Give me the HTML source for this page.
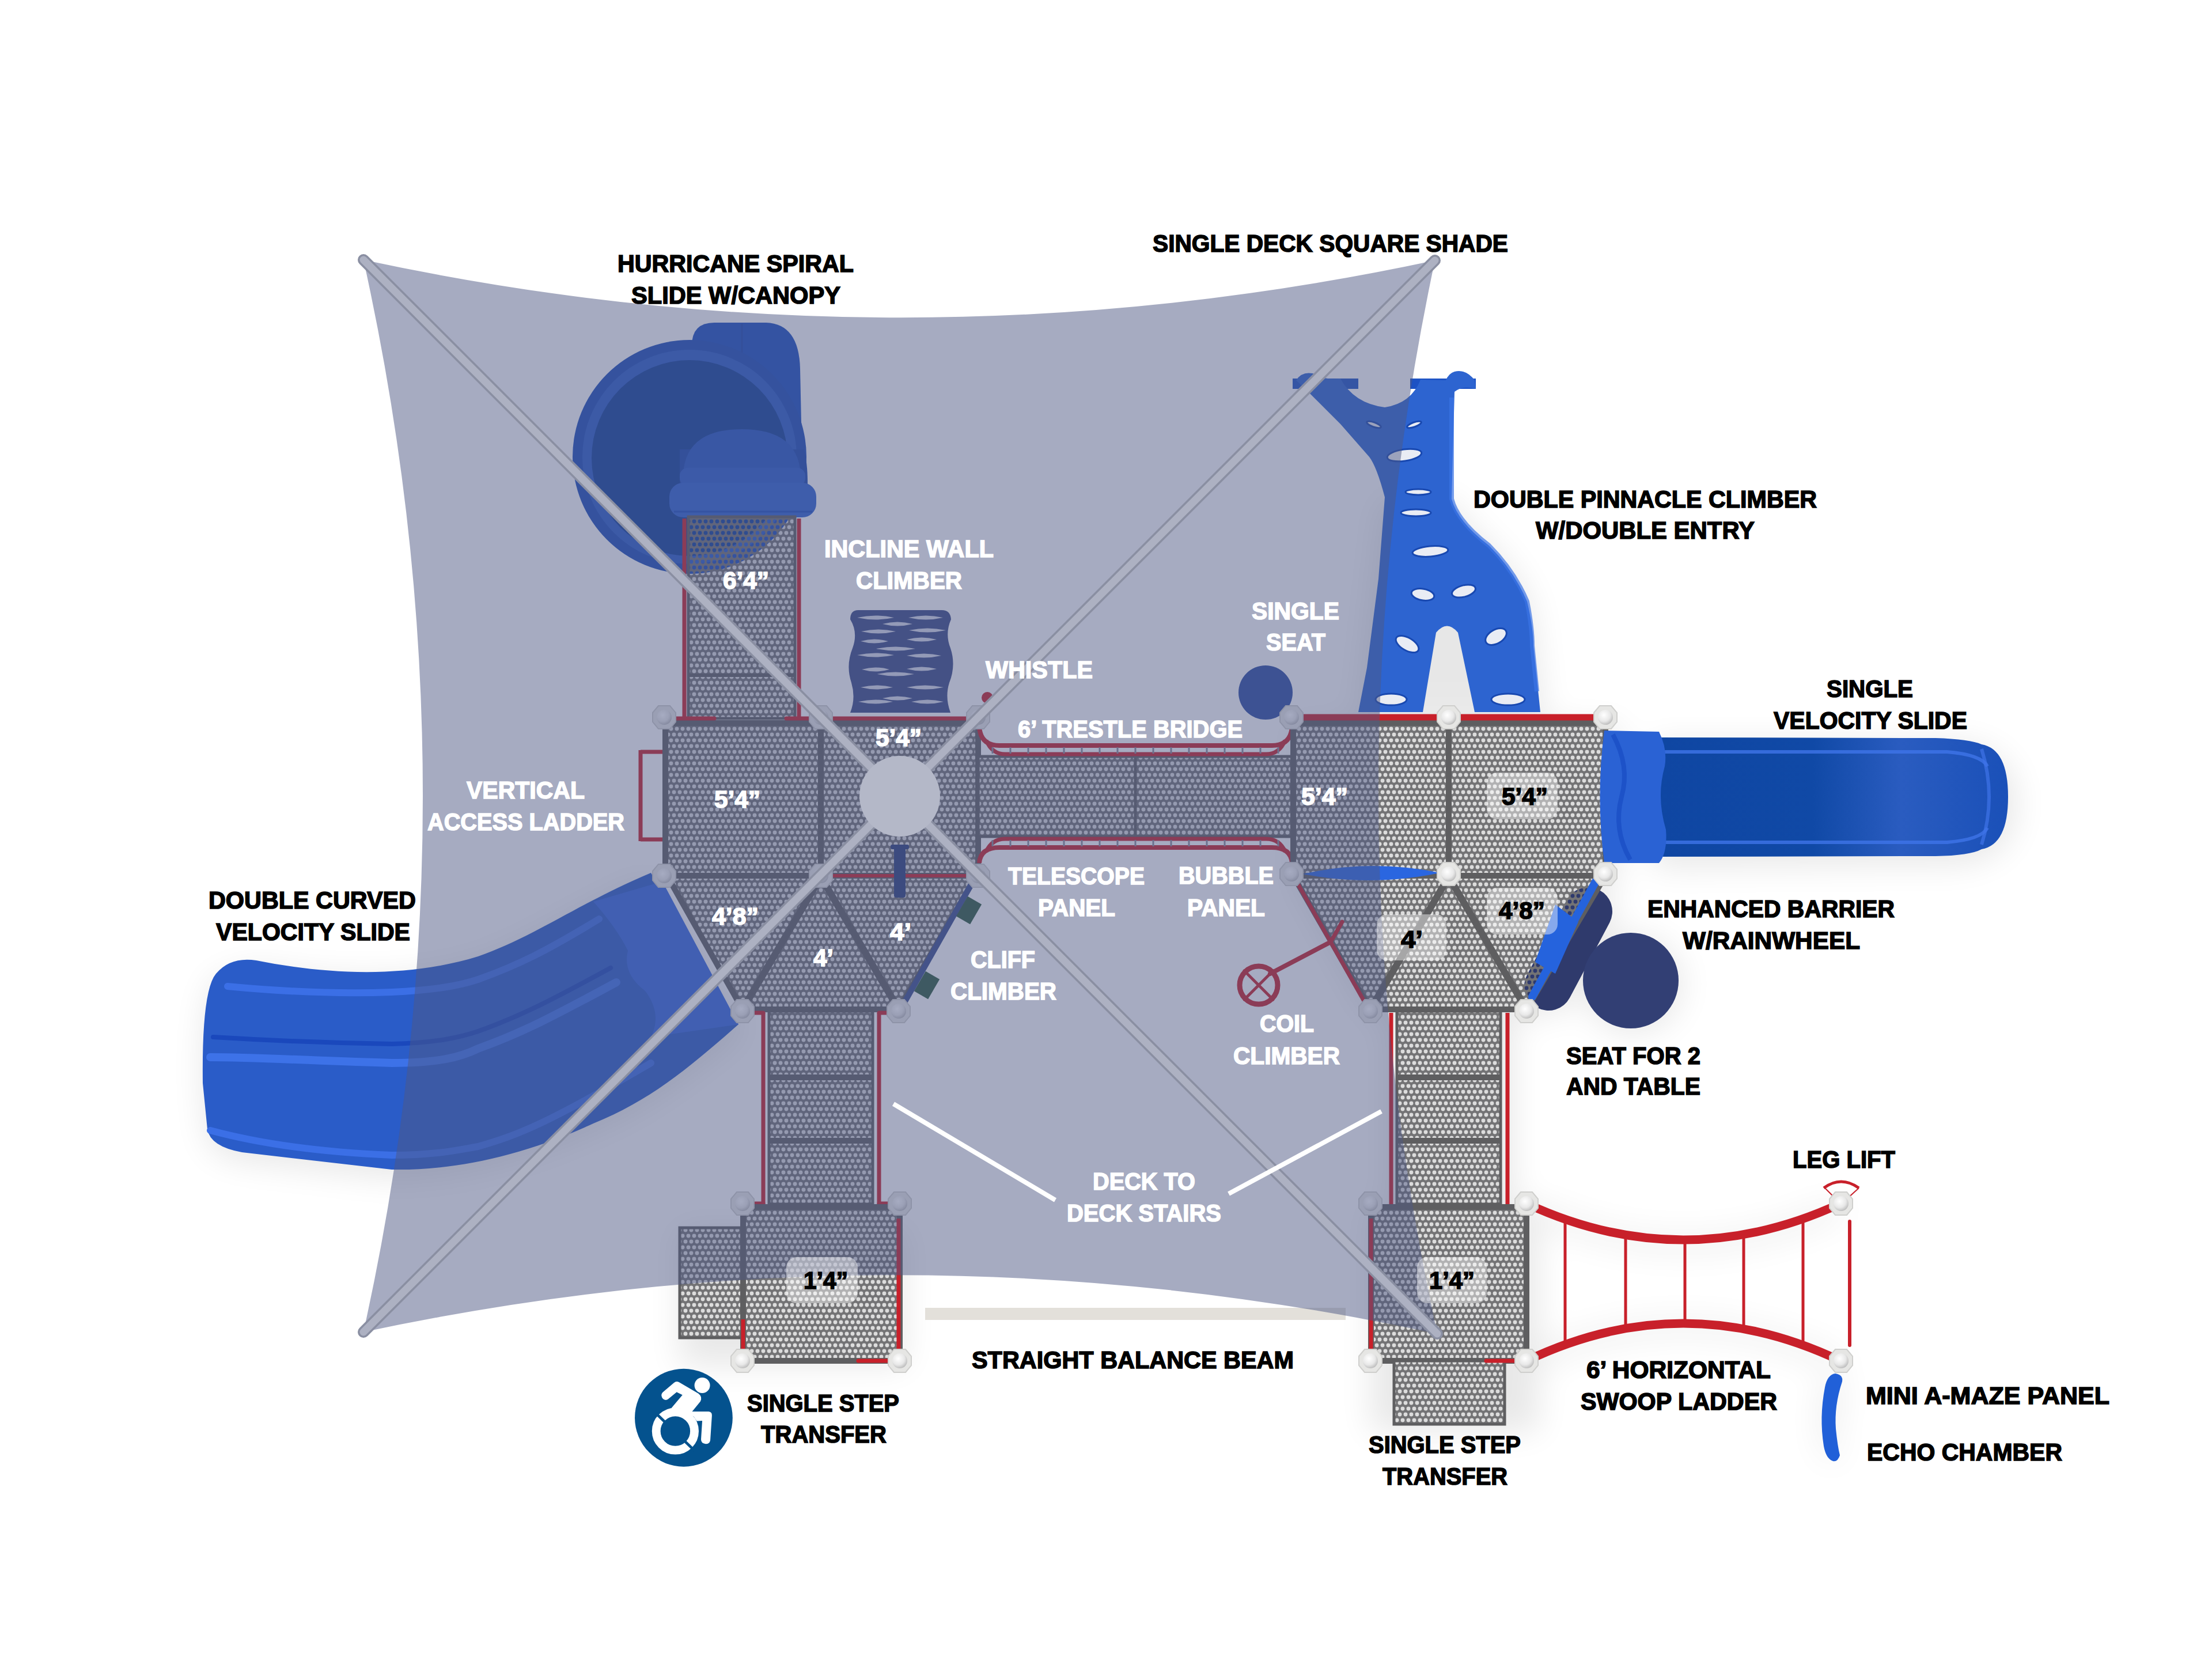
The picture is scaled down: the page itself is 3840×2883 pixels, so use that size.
<!DOCTYPE html>
<html><head><meta charset="utf-8"><title>Playground plan</title>
<style>html,body{margin:0;padding:0;background:#fff;} body{width:3840px;height:2883px;overflow:hidden;font-family:"Liberation Sans",sans-serif;} svg{display:block;}</style>
</head><body>
<svg width="3840" height="2883" viewBox="0 0 3840 2883">
<defs>
 <pattern id="dots" x="0" y="0" width="10" height="20" patternUnits="userSpaceOnUse">
  <rect width="10" height="20" fill="#737375"/>
  <circle cx="5" cy="5" r="3.45" fill="#dcdcdc"/>
  <circle cx="0" cy="15" r="3.45" fill="#dcdcdc"/>
  <circle cx="10" cy="15" r="3.45" fill="#dcdcdc"/>
 </pattern>
 <pattern id="dotsT" x="0" y="0" width="10" height="20" patternUnits="userSpaceOnUse">
  <path fill-rule="evenodd" fill="#737375" d="M0,0 H10 V20 H0 Z M1.55,5 a3.45,3.45 0 1,0 6.9,0 a3.45,3.45 0 1,0 -6.9,0 Z M-3.45,15 a3.45,3.45 0 1,0 6.9,0 a3.45,3.45 0 1,0 -6.9,0 Z M6.55,15 a3.45,3.45 0 1,0 6.9,0 a3.45,3.45 0 1,0 -6.9,0 Z"/>
 </pattern>
 <filter id="blur20" x="-30%" y="-30%" width="160%" height="160%"><feGaussianBlur stdDeviation="20"/></filter>
 <filter id="blur30" x="-50%" y="-50%" width="200%" height="200%"><feGaussianBlur stdDeviation="28"/></filter>
 <filter id="blur8" x="-30%" y="-30%" width="160%" height="160%"><feGaussianBlur stdDeviation="8"/></filter>
 <radialGradient id="vslideg" cx="0.5" cy="0.5" r="0.5"><stop offset="0" stop-color="#3b67cf"/><stop offset="1" stop-color="#1f52c8"/></radialGradient>
 <linearGradient id="vslide" x1="0" y1="0" x2="1" y2="0"><stop offset="0" stop-color="#0f46a2"/><stop offset="0.45" stop-color="#1049a6"/><stop offset="0.7" stop-color="#2a5cc0"/><stop offset="1" stop-color="#1a50b8"/></linearGradient>
 <radialGradient id="postg" cx="0.4" cy="0.35" r="0.7"><stop offset="0" stop-color="#ffffff"/><stop offset="0.6" stop-color="#e8e8e8"/><stop offset="1" stop-color="#b8b8b8"/></radialGradient>
 <linearGradient id="poleg" x1="0" y1="0" x2="1" y2="1">
  <stop offset="0" stop-color="#a9abb4"/><stop offset="1" stop-color="#9a9ca6"/>
 </linearGradient>
</defs>

<rect width="3840" height="2883" fill="#ffffff"/>
<g filter="url(#blur30)" fill="#000" opacity="0.09">
<path d="M2869,1290 L3400,1290 Q3500,1300 3500,1395 Q3500,1490 3400,1500 L2869,1505 Z"/>
<path d="M445,1680 C560,1700 700,1710 830,1670 C930,1635 1000,1580 1130,1525 L1290,1790 C1200,1860 1130,1920 1030,1960 C900,2020 780,2045 680,2045 L420,2015 Q365,2005 360,1975 L352,1890 Q350,1730 375,1700 Z"/>
<rect x="2380" y="2100" width="290" height="385"/>
<rect x="2250" y="1260" width="560" height="270"/>
<path d="M2250,1525 L2790,1525 L2660,1765 L2380,1765 Z"/>
<rect x="2412" y="1760" width="215" height="340"/>
<path d="M2520,870 Q2540,910 2590,950 Q2640,1000 2660,1060 L2680,1250 L2358,1250 L2400,870 Z"/>
<circle cx="2835" cy="1708" r="85"/>
<path d="M2762,1585 L2692,1718" stroke="#000" stroke-width="84" stroke-linecap="round"/>
<path d="M2650,2095 Q2922,2225 3195,2095" fill="none" stroke="#000" stroke-width="22"/>
<path d="M2650,2368 Q2922,2240 3195,2368" fill="none" stroke="#000" stroke-width="22"/>
<rect x="1180" y="2135" width="390" height="235"/>
<path d="M3190,2392 Q3205,2404 3192,2444 Q3178,2484 3190,2532 Q3185,2544 3172,2536 Q3152,2474 3168,2404 Z"/>
</g>
<g id="structure"><rect x="1195" y="897" width="185" height="350" fill="#dcdcdc"/>
<path d="M1201,600 Q1201,560 1240,560 L1330,560 Q1387,562 1389,640 L1392,780 L1240,780 Z" fill="#1b4fc0"/>
<line x1="1288" y1="562" x2="1288" y2="700" stroke="#1a47b0" stroke-width="3"/>
<circle cx="1197" cy="793" r="203" fill="#1c4db8"/>
<circle cx="1197" cy="793" r="186" fill="#2a5cc8"/>
<circle cx="1197" cy="795" r="170" fill="#11409a"/>
<path d="M1180,780 L1395,780 Q1402,800 1402,840 L1180,840 Z" fill="#1a48b0"/>
<path d="M1186,823 Q1190,745 1288,745 Q1385,745 1390,823 Z" fill="#2556c4"/>
<rect x="1180" y="812" width="218" height="32" rx="14" fill="#2a5ccc"/>
<rect x="1162" y="838" width="255" height="60" rx="24" fill="#2e62d2"/>
<line x1="1170" y1="888" x2="1410" y2="888" stroke="#1d4fc0" stroke-width="3"/>
<rect x="1195" y="897" width="185" height="350" fill="url(#dotsT)" stroke="#5e5e60" stroke-width="5"/>
<line x1="1195" y1="1172" x2="1380" y2="1172" stroke="#5e5e60" stroke-width="6" stroke-linecap="butt"/>
<line x1="1188" y1="900" x2="1188" y2="1250" stroke="#c8202a" stroke-width="7" stroke-linecap="butt"/>
<line x1="1387" y1="900" x2="1387" y2="1250" stroke="#c8202a" stroke-width="7" stroke-linecap="butt"/>
<path d="M1490,1059 L1635,1059 Q1650,1059 1651,1075 Q1640,1100 1650,1125 Q1660,1155 1648,1185 Q1640,1210 1650,1237 L1476,1237 Q1486,1212 1478,1185 Q1468,1155 1480,1125 Q1490,1098 1476,1075 Q1476,1059 1490,1059 Z" fill="#3b4a86"/>
<path d="M1488,1072 Q1520,1065 1552,1072 Q1520,1079 1488,1072 Z" fill="#d9dcea"/>
<path d="M1577,1072 Q1607,1065 1637,1072 Q1607,1079 1577,1072 Z" fill="#d9dcea"/>
<path d="M1532,1083 Q1558,1076 1584,1083 Q1558,1090 1532,1083 Z" fill="#d9dcea"/>
<path d="M1495,1096 Q1525,1089 1555,1096 Q1525,1103 1495,1096 Z" fill="#d9dcea"/>
<path d="M1578,1094 Q1610,1087 1642,1094 Q1610,1101 1578,1094 Z" fill="#d9dcea"/>
<path d="M1494,1113 Q1518,1106 1542,1113 Q1518,1120 1494,1113 Z" fill="#d9dcea"/>
<path d="M1574,1110 Q1600,1103 1626,1110 Q1600,1117 1574,1110 Z" fill="#d9dcea"/>
<path d="M1521,1126 Q1555,1119 1589,1126 Q1555,1133 1521,1126 Z" fill="#d9dcea"/>
<path d="M1488,1137 Q1520,1130 1552,1137 Q1520,1144 1488,1137 Z" fill="#d9dcea"/>
<path d="M1574,1138 Q1604,1131 1634,1138 Q1604,1145 1574,1138 Z" fill="#d9dcea"/>
<path d="M1496,1162 Q1520,1155 1544,1162 Q1520,1169 1496,1162 Z" fill="#d9dcea"/>
<path d="M1574,1161 Q1600,1154 1626,1161 Q1600,1168 1574,1161 Z" fill="#d9dcea"/>
<path d="M1523,1170 Q1555,1163 1587,1170 Q1555,1177 1523,1170 Z" fill="#d9dcea"/>
<path d="M1494,1193 Q1522,1186 1550,1193 Q1522,1200 1494,1193 Z" fill="#d9dcea"/>
<path d="M1574,1193 Q1606,1186 1638,1193 Q1606,1200 1574,1193 Z" fill="#d9dcea"/>
<path d="M1490,1218 Q1520,1211 1550,1218 Q1520,1225 1490,1218 Z" fill="#d9dcea"/>
<path d="M1582,1218 Q1610,1211 1638,1218 Q1610,1225 1582,1218 Z" fill="#d9dcea"/>
<path d="M1532,1212 Q1558,1205 1584,1212 Q1558,1219 1532,1212 Z" fill="#d9dcea"/>
<line x1="1112" y1="1302" x2="1112" y2="1460" stroke="#c8202a" stroke-width="7" stroke-linecap="butt"/>
<line x1="1112" y1="1305" x2="1150" y2="1305" stroke="#c8202a" stroke-width="7" stroke-linecap="butt"/>
<line x1="1112" y1="1457" x2="1150" y2="1457" stroke="#c8202a" stroke-width="7" stroke-linecap="butt"/>
<rect x="1155" y="1255" width="270" height="265" rx="8" fill="url(#dots)" stroke="#5e5e60" stroke-width="10"/>
<rect x="1425" y="1255" width="273" height="265" rx="8" fill="url(#dots)" stroke="#5e5e60" stroke-width="10"/>
<polygon points="1158,1520 1695,1520 1560,1752 1289,1752" fill="url(#dots)" stroke="#5e5e60" stroke-width="10" stroke-linejoin="round"/>
<line x1="1425" y1="1522" x2="1289" y2="1752" stroke="#5e5e60" stroke-width="12" stroke-linecap="butt"/>
<line x1="1425" y1="1522" x2="1560" y2="1752" stroke="#5e5e60" stroke-width="12" stroke-linecap="butt"/>
<line x1="1170" y1="1247" x2="1240" y2="1247" stroke="#c8202a" stroke-width="7" stroke-linecap="round"/>
<line x1="1365" y1="1247" x2="1420" y2="1247" stroke="#c8202a" stroke-width="7" stroke-linecap="round"/>
<line x1="1440" y1="1247" x2="1690" y2="1247" stroke="#c8202a" stroke-width="7" stroke-linecap="round"/>
<line x1="1442" y1="1520" x2="1680" y2="1520" stroke="#c8202a" stroke-width="6" stroke-linecap="round"/>
<circle cx="1714" cy="1211" r="10" fill="#c8202a"/>
<rect x="1552" y="1470" width="20" height="88" rx="4" fill="#2a3f7a"/>
<rect x="1546" y="1466" width="32" height="8" rx="3" fill="#2a3f7a"/>
<line x1="1690" y1="1528" x2="1570" y2="1740" stroke="#3a4f8f" stroke-width="10" stroke-linecap="butt"/>
<rect x="1668" y="1560" width="28" height="40" fill="#2f5b40" transform="rotate(30 1682 1580)"/>
<rect x="1595" y="1690" width="28" height="40" fill="#2f5b40" transform="rotate(30 1609 1710)"/>
<rect x="1335" y="1755" width="180" height="335" fill="url(#dots)" stroke="#5e5e60" stroke-width="5"/>
<line x1="1335" y1="1870" x2="1515" y2="1870" stroke="#5e5e60" stroke-width="10" stroke-linecap="butt"/>
<line x1="1335" y1="1980" x2="1515" y2="1980" stroke="#5e5e60" stroke-width="10" stroke-linecap="butt"/>
<line x1="1325" y1="1758" x2="1325" y2="2090" stroke="#c8202a" stroke-width="7" stroke-linecap="butt"/>
<line x1="1526" y1="1758" x2="1526" y2="2090" stroke="#c8202a" stroke-width="7" stroke-linecap="butt"/>
<line x1="1305" y1="1758" x2="1325" y2="1758" stroke="#c8202a" stroke-width="7" stroke-linecap="round"/>
<line x1="1526" y1="1758" x2="1545" y2="1758" stroke="#c8202a" stroke-width="7" stroke-linecap="round"/>
<line x1="1305" y1="2089" x2="1325" y2="2089" stroke="#c8202a" stroke-width="7" stroke-linecap="round"/>
<line x1="1526" y1="2089" x2="1545" y2="2089" stroke="#c8202a" stroke-width="7" stroke-linecap="round"/>
<rect x="1180" y="2131" width="110" height="191" fill="url(#dots)" stroke="#5e5e60" stroke-width="5"/>
<rect x="1290" y="2095" width="272" height="267" rx="8" fill="url(#dots)" stroke="#5e5e60" stroke-width="10"/>
<line x1="1560" y1="2115" x2="1560" y2="2345" stroke="#c8202a" stroke-width="7" stroke-linecap="butt"/>
<line x1="1290" y1="2290" x2="1290" y2="2350" stroke="#c8202a" stroke-width="7" stroke-linecap="butt"/>
<line x1="1490" y1="2362" x2="1540" y2="2362" stroke="#c8202a" stroke-width="7" stroke-linecap="round"/>
<rect x="1698" y="1313" width="547" height="139" fill="url(#dots)" stroke="#5e5e60" stroke-width="5"/>
<line x1="1971" y1="1313" x2="1971" y2="1452" stroke="#5e5e60" stroke-width="5" stroke-linecap="butt"/>
<path d="M1700,1261 Q1702,1294 1735,1294 L2208,1294 Q2241,1294 2243,1261" fill="none" stroke="#c8202a" stroke-width="8"/>
<path d="M1712,1285 Q1722,1309 1745,1309 L2198,1309 Q2221,1309 2231,1285" fill="none" stroke="#c8202a" stroke-width="7"/>
<path d="M1700,1498 Q1702,1471 1735,1471 L2208,1471 Q2241,1471 2243,1498" fill="none" stroke="#c8202a" stroke-width="8"/>
<path d="M1712,1478 Q1722,1456 1745,1456 L2198,1456 Q2221,1456 2231,1478" fill="none" stroke="#c8202a" stroke-width="7"/>
<line x1="1723" y1="1297" x2="1723" y2="1308" stroke="#8a8a98" stroke-width="3" stroke-linecap="butt"/>
<line x1="1723" y1="1458" x2="1723" y2="1469" stroke="#8a8a98" stroke-width="3" stroke-linecap="butt"/>
<line x1="1754" y1="1297" x2="1754" y2="1308" stroke="#8a8a98" stroke-width="3" stroke-linecap="butt"/>
<line x1="1754" y1="1458" x2="1754" y2="1469" stroke="#8a8a98" stroke-width="3" stroke-linecap="butt"/>
<line x1="1785" y1="1297" x2="1785" y2="1308" stroke="#8a8a98" stroke-width="3" stroke-linecap="butt"/>
<line x1="1785" y1="1458" x2="1785" y2="1469" stroke="#8a8a98" stroke-width="3" stroke-linecap="butt"/>
<line x1="1816" y1="1297" x2="1816" y2="1308" stroke="#8a8a98" stroke-width="3" stroke-linecap="butt"/>
<line x1="1816" y1="1458" x2="1816" y2="1469" stroke="#8a8a98" stroke-width="3" stroke-linecap="butt"/>
<line x1="1847" y1="1297" x2="1847" y2="1308" stroke="#8a8a98" stroke-width="3" stroke-linecap="butt"/>
<line x1="1847" y1="1458" x2="1847" y2="1469" stroke="#8a8a98" stroke-width="3" stroke-linecap="butt"/>
<line x1="1878" y1="1297" x2="1878" y2="1308" stroke="#8a8a98" stroke-width="3" stroke-linecap="butt"/>
<line x1="1878" y1="1458" x2="1878" y2="1469" stroke="#8a8a98" stroke-width="3" stroke-linecap="butt"/>
<line x1="1909" y1="1297" x2="1909" y2="1308" stroke="#8a8a98" stroke-width="3" stroke-linecap="butt"/>
<line x1="1909" y1="1458" x2="1909" y2="1469" stroke="#8a8a98" stroke-width="3" stroke-linecap="butt"/>
<line x1="1940" y1="1297" x2="1940" y2="1308" stroke="#8a8a98" stroke-width="3" stroke-linecap="butt"/>
<line x1="1940" y1="1458" x2="1940" y2="1469" stroke="#8a8a98" stroke-width="3" stroke-linecap="butt"/>
<line x1="1971" y1="1297" x2="1971" y2="1308" stroke="#8a8a98" stroke-width="3" stroke-linecap="butt"/>
<line x1="1971" y1="1458" x2="1971" y2="1469" stroke="#8a8a98" stroke-width="3" stroke-linecap="butt"/>
<line x1="2002" y1="1297" x2="2002" y2="1308" stroke="#8a8a98" stroke-width="3" stroke-linecap="butt"/>
<line x1="2002" y1="1458" x2="2002" y2="1469" stroke="#8a8a98" stroke-width="3" stroke-linecap="butt"/>
<line x1="2033" y1="1297" x2="2033" y2="1308" stroke="#8a8a98" stroke-width="3" stroke-linecap="butt"/>
<line x1="2033" y1="1458" x2="2033" y2="1469" stroke="#8a8a98" stroke-width="3" stroke-linecap="butt"/>
<line x1="2064" y1="1297" x2="2064" y2="1308" stroke="#8a8a98" stroke-width="3" stroke-linecap="butt"/>
<line x1="2064" y1="1458" x2="2064" y2="1469" stroke="#8a8a98" stroke-width="3" stroke-linecap="butt"/>
<line x1="2095" y1="1297" x2="2095" y2="1308" stroke="#8a8a98" stroke-width="3" stroke-linecap="butt"/>
<line x1="2095" y1="1458" x2="2095" y2="1469" stroke="#8a8a98" stroke-width="3" stroke-linecap="butt"/>
<line x1="2126" y1="1297" x2="2126" y2="1308" stroke="#8a8a98" stroke-width="3" stroke-linecap="butt"/>
<line x1="2126" y1="1458" x2="2126" y2="1469" stroke="#8a8a98" stroke-width="3" stroke-linecap="butt"/>
<line x1="2157" y1="1297" x2="2157" y2="1308" stroke="#8a8a98" stroke-width="3" stroke-linecap="butt"/>
<line x1="2157" y1="1458" x2="2157" y2="1469" stroke="#8a8a98" stroke-width="3" stroke-linecap="butt"/>
<line x1="2188" y1="1297" x2="2188" y2="1308" stroke="#8a8a98" stroke-width="3" stroke-linecap="butt"/>
<line x1="2188" y1="1458" x2="2188" y2="1469" stroke="#8a8a98" stroke-width="3" stroke-linecap="butt"/>
<line x1="2219" y1="1297" x2="2219" y2="1308" stroke="#8a8a98" stroke-width="3" stroke-linecap="butt"/>
<line x1="2219" y1="1458" x2="2219" y2="1469" stroke="#8a8a98" stroke-width="3" stroke-linecap="butt"/>
<circle cx="2197" cy="1202" r="47" fill="#2d4da3"/>
<rect x="2244" y="657" width="114" height="18" fill="#1d52c4"/>
<rect x="2448" y="657" width="114" height="18" fill="#1d52c4"/>
<path d="M2250,660 Q2262,642 2285,650 Q2300,660 2327,657 Q2350,700 2404,707 Q2450,700 2466,659 L2510,660 Q2515,648 2525,645 Q2545,640 2560,660 L2562,675 Q2540,668 2525,680 L2520,866 Q2530,905 2585,947 Q2628,990 2651,1044 Q2662,1090 2662,1121 L2674,1236 L2560,1236 L2531,1098 Q2512,1075 2493,1098 L2470,1236 L2358,1236 L2373,1159 L2393,1005 L2404,863 Q2390,810 2377,793 L2327,736 L2273,682 Z" fill="#2d64d0"/>
<path d="M2520,690 L2520,866 Q2530,905 2585,947 Q2628,990 2651,1044 Q2660,1090 2660,1121 L2668,1200" fill="none" stroke="#3b74e6" stroke-width="8" opacity="0.7"/>
<ellipse cx="2438" cy="790" rx="30" ry="10" fill="#e9ecf4" stroke="#1848b0" stroke-width="3" transform="rotate(-8 2438 790)"/>
<ellipse cx="2385" cy="737" rx="13" ry="4" fill="#e9ecf4" stroke="#1848b0" stroke-width="3" transform="rotate(20 2385 737)"/>
<ellipse cx="2455" cy="737" rx="13" ry="4" fill="#e9ecf4" stroke="#1848b0" stroke-width="3" transform="rotate(-20 2455 737)"/>
<ellipse cx="2462" cy="854" rx="22" ry="5" fill="#e9ecf4" stroke="#1848b0" stroke-width="3" transform="rotate(0 2462 854)"/>
<ellipse cx="2458" cy="890" rx="26" ry="6" fill="#e9ecf4" stroke="#1848b0" stroke-width="3" transform="rotate(0 2458 890)"/>
<ellipse cx="2483" cy="957" rx="31" ry="9" fill="#e9ecf4" stroke="#1848b0" stroke-width="3" transform="rotate(-5 2483 957)"/>
<ellipse cx="2470" cy="1032" rx="20" ry="10" fill="#e9ecf4" stroke="#1848b0" stroke-width="3" transform="rotate(10 2470 1032)"/>
<ellipse cx="2541" cy="1026" rx="21" ry="10" fill="#e9ecf4" stroke="#1848b0" stroke-width="3" transform="rotate(-15 2541 1026)"/>
<ellipse cx="2443" cy="1118" rx="22" ry="11" fill="#e9ecf4" stroke="#1848b0" stroke-width="3" transform="rotate(30 2443 1118)"/>
<ellipse cx="2597" cy="1105" rx="20" ry="12" fill="#e9ecf4" stroke="#1848b0" stroke-width="3" transform="rotate(-30 2597 1105)"/>
<ellipse cx="2415" cy="1214" rx="27" ry="10" fill="#e9ecf4" stroke="#1848b0" stroke-width="3" transform="rotate(0 2415 1214)"/>
<ellipse cx="2618" cy="1214" rx="29" ry="10" fill="#e9ecf4" stroke="#1848b0" stroke-width="3" transform="rotate(0 2618 1214)"/>
<rect x="2245" y="1255" width="270" height="265" rx="8" fill="url(#dots)" stroke="#5e5e60" stroke-width="10"/>
<rect x="2515" y="1255" width="272" height="265" rx="8" fill="url(#dots)" stroke="#5e5e60" stroke-width="10"/>
<polygon points="2245,1520 2787,1520 2650,1752 2379,1752" fill="#dcdcdc" stroke="none" stroke-width="0" stroke-linejoin="round"/>
<line x1="2757" y1="1582" x2="2688" y2="1712" stroke="#2f3a6c" stroke-width="84" stroke-linecap="round"/>
<polygon points="2245,1520 2787,1520 2650,1752 2379,1752" fill="url(#dotsT)" stroke="#5e5e60" stroke-width="10" stroke-linejoin="round"/>
<line x1="2515" y1="1522" x2="2379" y2="1752" stroke="#5e5e60" stroke-width="12" stroke-linecap="butt"/>
<line x1="2515" y1="1522" x2="2650" y2="1752" stroke="#5e5e60" stroke-width="12" stroke-linecap="butt"/>
<line x1="2255" y1="1245" x2="2500" y2="1245" stroke="#c8202a" stroke-width="11" stroke-linecap="round"/>
<line x1="2530" y1="1245" x2="2770" y2="1245" stroke="#c8202a" stroke-width="11" stroke-linecap="round"/>
<path d="M2262,1517 Q2380,1490 2500,1515 Q2380,1540 2262,1517 Z" fill="#2a66e0"/>
<circle cx="2185" cy="1710" r="33" fill="none" stroke="#c8202a" stroke-width="9"/>
<line x1="2160" y1="1735" x2="2210" y2="1685" stroke="#c8202a" stroke-width="5" stroke-linecap="round"/>
<line x1="2160" y1="1685" x2="2210" y2="1735" stroke="#c8202a" stroke-width="5" stroke-linecap="round"/>
<line x1="2205" y1="1690" x2="2310" y2="1635" stroke="#c8202a" stroke-width="8" stroke-linecap="round"/>
<line x1="2310" y1="1635" x2="2330" y2="1600" stroke="#c8202a" stroke-width="7" stroke-linecap="round"/>
<path d="M2245,1520 L2375,1750" fill="none" stroke="#c8202a" stroke-width="7"/>
<circle cx="2831" cy="1702" r="83" fill="#323f74"/>
<line x1="2770" y1="1530" x2="2660" y2="1730" stroke="#2563dd" stroke-width="14" stroke-linecap="round"/>
<path d="M2700,1570 L2740,1600 L2700,1690 L2665,1670 Z" fill="#2563dd"/>
<rect x="2425" y="1755" width="180" height="335" fill="url(#dots)" stroke="#5e5e60" stroke-width="5"/>
<line x1="2425" y1="1870" x2="2605" y2="1870" stroke="#5e5e60" stroke-width="10" stroke-linecap="butt"/>
<line x1="2425" y1="1980" x2="2605" y2="1980" stroke="#5e5e60" stroke-width="10" stroke-linecap="butt"/>
<line x1="2415" y1="1758" x2="2415" y2="2090" stroke="#c8202a" stroke-width="7" stroke-linecap="butt"/>
<line x1="2617" y1="1758" x2="2617" y2="2090" stroke="#c8202a" stroke-width="7" stroke-linecap="butt"/>
<rect x="2380" y="2095" width="270" height="267" rx="8" fill="url(#dots)" stroke="#5e5e60" stroke-width="10"/>
<rect x="2420" y="2362" width="192" height="110" fill="url(#dots)" stroke="#5e5e60" stroke-width="5"/>
<line x1="2380" y1="2115" x2="2380" y2="2345" stroke="#c8202a" stroke-width="7" stroke-linecap="butt"/>
<line x1="2580" y1="2362" x2="2630" y2="2362" stroke="#c8202a" stroke-width="7" stroke-linecap="round"/>
<path d="M2869,1280 L3360,1281 Q3420,1283 3440,1292 Q3486,1300 3486,1383 Q3486,1466 3440,1474 Q3420,1485 3360,1486 L2869,1487 Z" fill="url(#vslide)"/>
<path d="M2875,1305 L3380,1305 Q3440,1310 3450,1330" fill="none" stroke="#3f74e8" stroke-width="6" opacity="0.8"/>
<path d="M2875,1462 L3380,1462 Q3440,1457 3450,1437" fill="none" stroke="#3f74e8" stroke-width="6" opacity="0.8"/>
<path d="M3440,1300 Q3466,1383 3440,1466" fill="none" stroke="#3f74e8" stroke-width="6" opacity="0.7"/>
<path d="M2785,1268 L2880,1270 Q2895,1300 2890,1330 Q2875,1383 2892,1440 Q2895,1480 2880,1498 L2785,1498 Q2770,1383 2785,1268 Z" fill="#2a62d4"/>
<path d="M2800,1275 Q2830,1330 2815,1383 Q2800,1440 2830,1492" fill="none" stroke="#1d52c8" stroke-width="8"/>
<path d="M2650,2089 Q2922,2215 3195,2089" fill="none" stroke="#c8202a" stroke-width="15"/>
<path d="M2650,2362 Q2922,2232 3195,2362" fill="none" stroke="#c8202a" stroke-width="15"/>
<line x1="2717" y1="2116.1712886120695" x2="2717" y2="2333.966130797071" stroke="#c8202a" stroke-width="5" stroke-linecap="butt"/>
<line x1="2822" y1="2143.4308122211937" x2="2822" y2="2305.84122548607" stroke="#c8202a" stroke-width="5" stroke-linecap="butt"/>
<line x1="2925" y1="2151.9946974160425" x2="2925" y2="2297.005470919956" stroke="#c8202a" stroke-width="5" stroke-linecap="butt"/>
<line x1="3027" y1="2142.7351132059594" x2="3027" y2="2306.5590101843277" stroke="#c8202a" stroke-width="5" stroke-linecap="butt"/>
<line x1="3130" y1="2115.470499116236" x2="3130" y2="2334.6891675784864" stroke="#c8202a" stroke-width="5" stroke-linecap="butt"/>
<line x1="3211" y1="2120" x2="3211" y2="2335" stroke="#c8202a" stroke-width="6" stroke-linecap="round"/>
<path d="M3166,2062 Q3196,2040 3227,2062" fill="none" stroke="#c8202a" stroke-width="5"/>
<path d="M3186,2384 Q3200,2386 3198,2398 Q3184,2440 3187,2480 Q3190,2510 3194,2526 Q3190,2538 3182,2536 Q3170,2532 3166,2510 Q3158,2460 3168,2408 Q3172,2386 3186,2384 Z" fill="#2160d8"/>
<path d="M3168,2062 L3196,2090 L3227,2062" fill="none" stroke="#c8202a" stroke-width="2"/>
<rect x="1606" y="2270" width="730" height="21" fill="#e3e0da"/>
<path d="M445,1667 C560,1690 700,1700 830,1660 C930,1625 1000,1570 1130,1515 L1282,1778 C1200,1850 1130,1910 1030,1950 C900,2010 780,2032 680,2030 L420,2000 Q365,1990 360,1960 L352,1880 Q350,1720 375,1690 Q400,1660 445,1667 Z" fill="#2a5cc8"/>
<path d="M395,1712 C500,1722 600,1725 680,1722 C760,1718 800,1710 830,1700 C900,1675 950,1650 1040,1595" fill="none" stroke="#3b6fe6" stroke-width="12" stroke-linecap="round"/>
<path d="M365,1835 C450,1835 560,1842 680,1845 C760,1845 800,1835 830,1820 C900,1795 950,1770 1070,1705" fill="none" stroke="#3d72e8" stroke-width="14" stroke-linecap="round"/>
<path d="M370,1800 C450,1805 560,1810 680,1812 C760,1810 800,1800 830,1790 C900,1765 950,1740 1060,1680" fill="none" stroke="#1a48bc" stroke-width="8" stroke-linecap="round"/>
<path d="M365,1962 C450,1985 560,2000 680,2005 C760,2005 800,1995 830,1990 C900,1970 950,1950 1130,1845" fill="none" stroke="#3b6fe6" stroke-width="12" stroke-linecap="round"/>
<path d="M1030,1565 L1150,1530 L1282,1778 L1130,1800 Q1150,1760 1120,1720 Q1080,1690 1090,1650 Q1070,1610 1030,1565 Z" fill="#3467e0"/>
<path d="M1133,1237 L1143,1225 L1163,1225 L1173,1237 L1173,1253 L1163,1265 L1143,1265 L1133,1253 Z" fill="#e6e6e4" stroke="#cfcfcd" stroke-width="2"/>
<circle cx="1153" cy="1245" r="13" fill="url(#postg)"/>
<path d="M1405,1237 L1415,1225 L1435,1225 L1445,1237 L1445,1253 L1435,1265 L1415,1265 L1405,1253 Z" fill="#e6e6e4" stroke="#cfcfcd" stroke-width="2"/>
<circle cx="1425" cy="1245" r="13" fill="url(#postg)"/>
<path d="M1678,1237 L1688,1225 L1708,1225 L1718,1237 L1718,1253 L1708,1265 L1688,1265 L1678,1253 Z" fill="#e6e6e4" stroke="#cfcfcd" stroke-width="2"/>
<circle cx="1698" cy="1245" r="13" fill="url(#postg)"/>
<path d="M1133,1512 L1143,1500 L1163,1500 L1173,1512 L1173,1528 L1163,1540 L1143,1540 L1133,1528 Z" fill="#e6e6e4" stroke="#cfcfcd" stroke-width="2"/>
<circle cx="1153" cy="1520" r="13" fill="url(#postg)"/>
<path d="M1405,1512 L1415,1500 L1435,1500 L1445,1512 L1445,1528 L1435,1540 L1415,1540 L1405,1528 Z" fill="#e6e6e4" stroke="#cfcfcd" stroke-width="2"/>
<circle cx="1425" cy="1520" r="13" fill="url(#postg)"/>
<path d="M1678,1512 L1688,1500 L1708,1500 L1718,1512 L1718,1528 L1708,1540 L1688,1540 L1678,1528 Z" fill="#e6e6e4" stroke="#cfcfcd" stroke-width="2"/>
<circle cx="1698" cy="1520" r="13" fill="url(#postg)"/>
<path d="M1269,1747 L1279,1735 L1299,1735 L1309,1747 L1309,1763 L1299,1775 L1279,1775 L1269,1763 Z" fill="#e6e6e4" stroke="#cfcfcd" stroke-width="2"/>
<circle cx="1289" cy="1755" r="13" fill="url(#postg)"/>
<path d="M1540,1747 L1550,1735 L1570,1735 L1580,1747 L1580,1763 L1570,1775 L1550,1775 L1540,1763 Z" fill="#e6e6e4" stroke="#cfcfcd" stroke-width="2"/>
<circle cx="1560" cy="1755" r="13" fill="url(#postg)"/>
<path d="M1269,2081 L1279,2069 L1299,2069 L1309,2081 L1309,2097 L1299,2109 L1279,2109 L1269,2097 Z" fill="#e6e6e4" stroke="#cfcfcd" stroke-width="2"/>
<circle cx="1289" cy="2089" r="13" fill="url(#postg)"/>
<path d="M1542,2081 L1552,2069 L1572,2069 L1582,2081 L1582,2097 L1572,2109 L1552,2109 L1542,2097 Z" fill="#e6e6e4" stroke="#cfcfcd" stroke-width="2"/>
<circle cx="1562" cy="2089" r="13" fill="url(#postg)"/>
<path d="M1269,2354 L1279,2342 L1299,2342 L1309,2354 L1309,2370 L1299,2382 L1279,2382 L1269,2370 Z" fill="#e6e6e4" stroke="#cfcfcd" stroke-width="2"/>
<circle cx="1289" cy="2362" r="13" fill="url(#postg)"/>
<path d="M1542,2354 L1552,2342 L1572,2342 L1582,2354 L1582,2370 L1572,2382 L1552,2382 L1542,2370 Z" fill="#e6e6e4" stroke="#cfcfcd" stroke-width="2"/>
<circle cx="1562" cy="2362" r="13" fill="url(#postg)"/>
<path d="M2222,1237 L2232,1225 L2252,1225 L2262,1237 L2262,1253 L2252,1265 L2232,1265 L2222,1253 Z" fill="#e6e6e4" stroke="#cfcfcd" stroke-width="2"/>
<circle cx="2242" cy="1245" r="13" fill="url(#postg)"/>
<path d="M2495,1237 L2505,1225 L2525,1225 L2535,1237 L2535,1253 L2525,1265 L2505,1265 L2495,1253 Z" fill="#e6e6e4" stroke="#cfcfcd" stroke-width="2"/>
<circle cx="2515" cy="1245" r="13" fill="url(#postg)"/>
<path d="M2767,1237 L2777,1225 L2797,1225 L2807,1237 L2807,1253 L2797,1265 L2777,1265 L2767,1253 Z" fill="#e6e6e4" stroke="#cfcfcd" stroke-width="2"/>
<circle cx="2787" cy="1245" r="13" fill="url(#postg)"/>
<path d="M2222,1509 L2232,1497 L2252,1497 L2262,1509 L2262,1525 L2252,1537 L2232,1537 L2222,1525 Z" fill="#e6e6e4" stroke="#cfcfcd" stroke-width="2"/>
<circle cx="2242" cy="1517" r="13" fill="url(#postg)"/>
<path d="M2495,1509 L2505,1497 L2525,1497 L2535,1509 L2535,1525 L2525,1537 L2505,1537 L2495,1525 Z" fill="#e6e6e4" stroke="#cfcfcd" stroke-width="2"/>
<circle cx="2515" cy="1517" r="13" fill="url(#postg)"/>
<path d="M2767,1509 L2777,1497 L2797,1497 L2807,1509 L2807,1525 L2797,1537 L2777,1537 L2767,1525 Z" fill="#e6e6e4" stroke="#cfcfcd" stroke-width="2"/>
<circle cx="2787" cy="1517" r="13" fill="url(#postg)"/>
<path d="M2359,1747 L2369,1735 L2389,1735 L2399,1747 L2399,1763 L2389,1775 L2369,1775 L2359,1763 Z" fill="#e6e6e4" stroke="#cfcfcd" stroke-width="2"/>
<circle cx="2379" cy="1755" r="13" fill="url(#postg)"/>
<path d="M2630,1747 L2640,1735 L2660,1735 L2670,1747 L2670,1763 L2660,1775 L2640,1775 L2630,1763 Z" fill="#e6e6e4" stroke="#cfcfcd" stroke-width="2"/>
<circle cx="2650" cy="1755" r="13" fill="url(#postg)"/>
<path d="M2359,2081 L2369,2069 L2389,2069 L2399,2081 L2399,2097 L2389,2109 L2369,2109 L2359,2097 Z" fill="#e6e6e4" stroke="#cfcfcd" stroke-width="2"/>
<circle cx="2379" cy="2089" r="13" fill="url(#postg)"/>
<path d="M2630,2081 L2640,2069 L2660,2069 L2670,2081 L2670,2097 L2660,2109 L2640,2109 L2630,2097 Z" fill="#e6e6e4" stroke="#cfcfcd" stroke-width="2"/>
<circle cx="2650" cy="2089" r="13" fill="url(#postg)"/>
<path d="M2359,2354 L2369,2342 L2389,2342 L2399,2354 L2399,2370 L2389,2382 L2369,2382 L2359,2370 Z" fill="#e6e6e4" stroke="#cfcfcd" stroke-width="2"/>
<circle cx="2379" cy="2362" r="13" fill="url(#postg)"/>
<path d="M2630,2354 L2640,2342 L2660,2342 L2670,2354 L2670,2370 L2660,2382 L2640,2382 L2630,2370 Z" fill="#e6e6e4" stroke="#cfcfcd" stroke-width="2"/>
<circle cx="2650" cy="2362" r="13" fill="url(#postg)"/>
<path d="M3176,2081 L3186,2069 L3206,2069 L3216,2081 L3216,2097 L3206,2109 L3186,2109 L3176,2097 Z" fill="#e6e6e4" stroke="#cfcfcd" stroke-width="2"/>
<circle cx="3196" cy="2089" r="13" fill="url(#postg)"/>
<path d="M3176,2354 L3186,2342 L3206,2342 L3216,2354 L3216,2370 L3206,2382 L3186,2382 L3176,2370 Z" fill="#e6e6e4" stroke="#cfcfcd" stroke-width="2"/>
<circle cx="3196" cy="2362" r="13" fill="url(#postg)"/></g>
<path d="M631,451 Q1562,651 2491,452 Q2293,1383 2495,2315 Q1563,2113 631,2312 Q837,1381 631,451 Z" fill="#4d5783" fill-opacity="0.5"/>
<line x1="631" y1="451" x2="2495" y2="2315" stroke="#8a8fa2" stroke-width="20" stroke-linecap="round"/>
<line x1="631" y1="451" x2="2495" y2="2315" stroke="#adb1c2" stroke-width="13" stroke-linecap="round"/>
<line x1="2491" y1="452" x2="631" y2="2312" stroke="#8a8fa2" stroke-width="20" stroke-linecap="round"/>
<line x1="2491" y1="452" x2="631" y2="2312" stroke="#adb1c2" stroke-width="13" stroke-linecap="round"/>
<circle cx="1562" cy="1382" r="70" fill="#b4b8c8"/>
<line x1="1551" y1="1916" x2="1832" y2="2083" stroke="#ffffff" stroke-width="8" stroke-linecap="butt"/>
<line x1="2133" y1="2072" x2="2398" y2="1929" stroke="#ffffff" stroke-width="8" stroke-linecap="butt"/>
<rect x="2581" y="1341" width="123" height="81" rx="18" fill="#ffffff" fill-opacity="0.45"/>
<rect x="2581" y="1541" width="123" height="81" rx="18" fill="#ffffff" fill-opacity="0.45"/>
<rect x="2390" y="1587" width="121" height="80" rx="18" fill="#ffffff" fill-opacity="0.45"/>
<rect x="1365" y="2182" width="124" height="80" rx="18" fill="#ffffff" fill-opacity="0.45"/>
<rect x="2460" y="2182" width="121" height="80" rx="18" fill="#ffffff" fill-opacity="0.45"/>
<g transform="translate(1090,2365) scale(0.11442)">
 <circle cx="847" cy="837" r="742" fill="#04528e"/>
 <circle cx="1128" cy="345" r="118" fill="#ffffff"/>
 <circle cx="720" cy="1040" r="290" fill="none" stroke="#ffffff" stroke-width="130"/>
 <path fill="#ffffff" d="M575,568 Q520,560 510,505 Q505,470 535,445 L700,305 Q735,275 775,298 L1070,470 Q1135,520 1100,590 L975,742 L1225,742 Q1280,748 1275,805 L1250,1180 Q1240,1235 1180,1235 Q1108,1225 1110,1165 L1128,882 L1045,886 L1000,820 L800,700 L660,690 L828,492 L740,447 L610,555 Q595,568 575,568 Z"/>
 <line x1="400" y1="745" x2="1010" y2="1335" stroke="#04528e" stroke-width="40"/>
</g>
<g font-family='"Liberation Sans", sans-serif' font-weight="bold">
<text x="1072" y="472" textLength="410" lengthAdjust="spacingAndGlyphs" font-size="43" fill="#000" stroke="#000" stroke-width="1.6">HURRICANE SPIRAL</text>
<text x="1096" y="527" textLength="363" lengthAdjust="spacingAndGlyphs" font-size="43" fill="#000" stroke="#000" stroke-width="1.6">SLIDE W/CANOPY</text>
<text x="2001" y="437" textLength="617" lengthAdjust="spacingAndGlyphs" font-size="43" fill="#000" stroke="#000" stroke-width="1.6">SINGLE DECK SQUARE SHADE</text>
<text x="2558" y="881" textLength="596" lengthAdjust="spacingAndGlyphs" font-size="43" fill="#000" stroke="#000" stroke-width="1.6">DOUBLE PINNACLE CLIMBER</text>
<text x="2666" y="935" textLength="380" lengthAdjust="spacingAndGlyphs" font-size="43" fill="#000" stroke="#000" stroke-width="1.6">W/DOUBLE ENTRY</text>
<text x="3171" y="1210" textLength="150" lengthAdjust="spacingAndGlyphs" font-size="43" fill="#000" stroke="#000" stroke-width="1.6">SINGLE</text>
<text x="3079" y="1265" textLength="336" lengthAdjust="spacingAndGlyphs" font-size="43" fill="#000" stroke="#000" stroke-width="1.6">VELOCITY SLIDE</text>
<text x="2860" y="1592" textLength="429" lengthAdjust="spacingAndGlyphs" font-size="43" fill="#000" stroke="#000" stroke-width="1.6">ENHANCED BARRIER</text>
<text x="2921" y="1647" textLength="308" lengthAdjust="spacingAndGlyphs" font-size="43" fill="#000" stroke="#000" stroke-width="1.6">W/RAINWHEEL</text>
<text x="2719" y="1847" textLength="233" lengthAdjust="spacingAndGlyphs" font-size="43" fill="#000" stroke="#000" stroke-width="1.6">SEAT FOR 2</text>
<text x="2719" y="1900" textLength="233" lengthAdjust="spacingAndGlyphs" font-size="43" fill="#000" stroke="#000" stroke-width="1.6">AND TABLE</text>
<text x="3112" y="2027" textLength="178" lengthAdjust="spacingAndGlyphs" font-size="43" fill="#000" stroke="#000" stroke-width="1.6">LEG LIFT</text>
<text x="2754" y="2392" textLength="320" lengthAdjust="spacingAndGlyphs" font-size="43" fill="#000" stroke="#000" stroke-width="1.6">6’ HORIZONTAL</text>
<text x="2744" y="2447" textLength="341" lengthAdjust="spacingAndGlyphs" font-size="43" fill="#000" stroke="#000" stroke-width="1.6">SWOOP LADDER</text>
<text x="3239" y="2437" textLength="423" lengthAdjust="spacingAndGlyphs" font-size="43" fill="#000" stroke="#000" stroke-width="1.6">MINI A-MAZE PANEL</text>
<text x="3241" y="2535" textLength="339" lengthAdjust="spacingAndGlyphs" font-size="43" fill="#000" stroke="#000" stroke-width="1.6">ECHO CHAMBER</text>
<text x="2376" y="2522" textLength="264" lengthAdjust="spacingAndGlyphs" font-size="43" fill="#000" stroke="#000" stroke-width="1.6">SINGLE STEP</text>
<text x="2400" y="2577" textLength="217" lengthAdjust="spacingAndGlyphs" font-size="43" fill="#000" stroke="#000" stroke-width="1.6">TRANSFER</text>
<text x="1297" y="2450" textLength="264" lengthAdjust="spacingAndGlyphs" font-size="43" fill="#000" stroke="#000" stroke-width="1.6">SINGLE STEP</text>
<text x="1321" y="2504" textLength="218" lengthAdjust="spacingAndGlyphs" font-size="43" fill="#000" stroke="#000" stroke-width="1.6">TRANSFER</text>
<text x="1687" y="2375" textLength="559" lengthAdjust="spacingAndGlyphs" font-size="43" fill="#000" stroke="#000" stroke-width="1.6">STRAIGHT BALANCE BEAM</text>
<text x="362" y="1577" textLength="360" lengthAdjust="spacingAndGlyphs" font-size="43" fill="#000" stroke="#000" stroke-width="1.6">DOUBLE CURVED</text>
<text x="375" y="1632" textLength="337" lengthAdjust="spacingAndGlyphs" font-size="43" fill="#000" stroke="#000" stroke-width="1.6">VELOCITY SLIDE</text>
<text x="1395" y="2237" textLength="77" lengthAdjust="spacingAndGlyphs" font-size="43" fill="#000" stroke="#000" stroke-width="1.6">1’4”</text>
<text x="2481" y="2237" textLength="79" lengthAdjust="spacingAndGlyphs" font-size="43" fill="#000" stroke="#000" stroke-width="1.6">1’4”</text>
<text x="2607" y="1397" textLength="80" lengthAdjust="spacingAndGlyphs" font-size="43" fill="#000" stroke="#000" stroke-width="1.6">5’4”</text>
<text x="2602" y="1595" textLength="80" lengthAdjust="spacingAndGlyphs" font-size="43" fill="#000" stroke="#000" stroke-width="1.6">4’8”</text>
<text x="2432" y="1645" textLength="38" lengthAdjust="spacingAndGlyphs" font-size="43" fill="#000" stroke="#000" stroke-width="1.6">4’</text>
<text x="1431" y="967" textLength="294" lengthAdjust="spacingAndGlyphs" font-size="43" fill="#ffffff" stroke="#ffffff" stroke-width="1.6">INCLINE WALL</text>
<text x="1486" y="1022" textLength="184" lengthAdjust="spacingAndGlyphs" font-size="43" fill="#ffffff" stroke="#ffffff" stroke-width="1.6">CLIMBER</text>
<text x="1255" y="1022" textLength="80" lengthAdjust="spacingAndGlyphs" font-size="43" fill="#ffffff" stroke="#ffffff" stroke-width="1.6">6’4”</text>
<text x="1711" y="1177" textLength="186" lengthAdjust="spacingAndGlyphs" font-size="43" fill="#ffffff" stroke="#ffffff" stroke-width="1.6">WHISTLE</text>
<text x="2173" y="1075" textLength="152" lengthAdjust="spacingAndGlyphs" font-size="43" fill="#ffffff" stroke="#ffffff" stroke-width="1.6">SINGLE</text>
<text x="2198" y="1129" textLength="103" lengthAdjust="spacingAndGlyphs" font-size="43" fill="#ffffff" stroke="#ffffff" stroke-width="1.6">SEAT</text>
<text x="1767" y="1280" textLength="390" lengthAdjust="spacingAndGlyphs" font-size="43" fill="#ffffff" stroke="#ffffff" stroke-width="1.6">6’ TRESTLE BRIDGE</text>
<text x="1520" y="1295" textLength="80" lengthAdjust="spacingAndGlyphs" font-size="43" fill="#ffffff" stroke="#ffffff" stroke-width="1.6">5’4”</text>
<text x="1240" y="1402" textLength="80" lengthAdjust="spacingAndGlyphs" font-size="43" fill="#ffffff" stroke="#ffffff" stroke-width="1.6">5’4”</text>
<text x="2259" y="1397" textLength="81" lengthAdjust="spacingAndGlyphs" font-size="43" fill="#ffffff" stroke="#ffffff" stroke-width="1.6">5’4”</text>
<text x="810" y="1386" textLength="205" lengthAdjust="spacingAndGlyphs" font-size="43" fill="#ffffff" stroke="#ffffff" stroke-width="1.6">VERTICAL</text>
<text x="742" y="1441" textLength="342" lengthAdjust="spacingAndGlyphs" font-size="43" fill="#ffffff" stroke="#ffffff" stroke-width="1.6">ACCESS LADDER</text>
<text x="1750" y="1535" textLength="237" lengthAdjust="spacingAndGlyphs" font-size="43" fill="#ffffff" stroke="#ffffff" stroke-width="1.6">TELESCOPE</text>
<text x="1802" y="1590" textLength="134" lengthAdjust="spacingAndGlyphs" font-size="43" fill="#ffffff" stroke="#ffffff" stroke-width="1.6">PANEL</text>
<text x="2046" y="1534" textLength="165" lengthAdjust="spacingAndGlyphs" font-size="43" fill="#ffffff" stroke="#ffffff" stroke-width="1.6">BUBBLE</text>
<text x="2061" y="1590" textLength="135" lengthAdjust="spacingAndGlyphs" font-size="43" fill="#ffffff" stroke="#ffffff" stroke-width="1.6">PANEL</text>
<text x="1236" y="1605" textLength="81" lengthAdjust="spacingAndGlyphs" font-size="43" fill="#ffffff" stroke="#ffffff" stroke-width="1.6">4’8”</text>
<text x="1545" y="1632" textLength="37" lengthAdjust="spacingAndGlyphs" font-size="43" fill="#ffffff" stroke="#ffffff" stroke-width="1.6">4’</text>
<text x="1412" y="1677" textLength="35" lengthAdjust="spacingAndGlyphs" font-size="43" fill="#ffffff" stroke="#ffffff" stroke-width="1.6">4’</text>
<text x="1685" y="1680" textLength="112" lengthAdjust="spacingAndGlyphs" font-size="43" fill="#ffffff" stroke="#ffffff" stroke-width="1.6">CLIFF</text>
<text x="1650" y="1735" textLength="184" lengthAdjust="spacingAndGlyphs" font-size="43" fill="#ffffff" stroke="#ffffff" stroke-width="1.6">CLIMBER</text>
<text x="2187" y="1791" textLength="94" lengthAdjust="spacingAndGlyphs" font-size="43" fill="#ffffff" stroke="#ffffff" stroke-width="1.6">COIL</text>
<text x="2141" y="1847" textLength="185" lengthAdjust="spacingAndGlyphs" font-size="43" fill="#ffffff" stroke="#ffffff" stroke-width="1.6">CLIMBER</text>
<text x="1897" y="2065" textLength="178" lengthAdjust="spacingAndGlyphs" font-size="43" fill="#ffffff" stroke="#ffffff" stroke-width="1.6">DECK TO</text>
<text x="1852" y="2120" textLength="268" lengthAdjust="spacingAndGlyphs" font-size="43" fill="#ffffff" stroke="#ffffff" stroke-width="1.6">DECK STAIRS</text>
</g></svg>
</body></html>
